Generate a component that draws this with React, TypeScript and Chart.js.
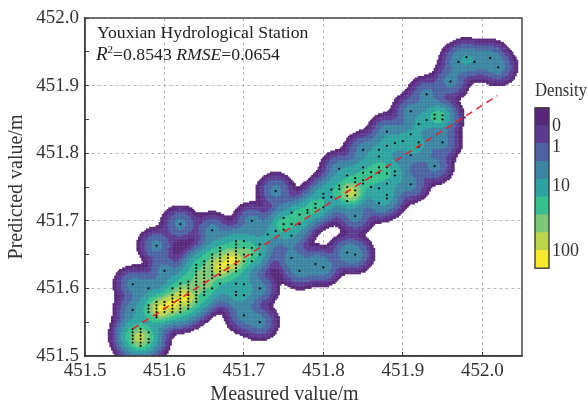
import React, { useEffect, useRef } from "react";
import { Chart, registerables } from "chart.js";

Chart.register(...registerables);

const BASE = 451; // all readings below are metres above this
const bandColors = ["#57277a", "#5c3a92", "#4c62a2", "#3b84a2", "#2da3a0", "#35c08e", "#7cc878", "#bcd54a", "#f6e92e"];
const legendTickLabels = ["0", "1", "10", "100"];
const legendTickPositions = [7.96, 6.78, 4.6, 0.94];
const fitLine = [[0.56, 0.54], [1.019, 0.885]];

// Places where many samples overlap: [measured, predicted, overlapping samples]
const overlapSpots: number[][] = [
  [0.569, 0.527, 35], [0.595, 0.57, 70], [0.61, 0.577, 80], [0.625, 0.587, 80], [0.65, 0.612, 18], [0.67, 0.632, 70], [0.685, 0.642, 80],
  [0.705, 0.652, 8], [0.835, 0.742, 40], [0.75, 0.695, 4], [0.77, 0.708, 4], [0.79, 0.72, 4], [0.87, 0.775, 4], [0.945, 0.854, 4],
];

// [measured, [predicted readings]]
const dotColumns: [number, number[]][] = [
  [0.56, [0.606, 0.568, 0.54, 0.535, 0.53, 0.525, 0.52]],
  [0.57, [0.54, 0.535, 0.53, 0.525, 0.52, 0.515]],
  [0.58, [0.6, 0.575, 0.57, 0.565, 0.535, 0.525, 0.52]],
  [0.59, [0.663, 0.58, 0.575, 0.57, 0.565, 0.56, 0.557]],
  [0.6, [0.626, 0.58, 0.575, 0.57, 0.565]],
  [0.61, [0.6, 0.59, 0.585, 0.58, 0.575, 0.57, 0.565]],
  [0.62, [0.695, 0.607, 0.6, 0.595, 0.59, 0.585, 0.58, 0.575, 0.57, 0.565]],
  [0.63, [0.61, 0.605, 0.6, 0.595, 0.59, 0.585, 0.58, 0.575, 0.57]],
  [0.64, [0.635, 0.63, 0.625, 0.62, 0.615, 0.61, 0.605, 0.6, 0.595, 0.59, 0.585, 0.58]],
  [0.65, [0.64, 0.635, 0.63, 0.625, 0.62, 0.615, 0.61, 0.605, 0.6, 0.595, 0.59]],
  [0.66, [0.686, 0.65, 0.645, 0.64, 0.635, 0.63, 0.625, 0.62, 0.615, 0.6]],
  [0.67, [0.66, 0.655, 0.65, 0.645, 0.64, 0.635, 0.63, 0.625, 0.62, 0.607]],
  [0.68, [0.65, 0.645, 0.64, 0.635, 0.63, 0.625]],
  [0.69, [0.67, 0.665, 0.66, 0.655, 0.65, 0.645, 0.64, 0.635, 0.63, 0.625, 0.607, 0.595, 0.59]],
  [0.7, [0.67, 0.66, 0.65, 0.64, 0.606, 0.59, 0.56]],
  [0.71, [0.7, 0.66, 0.65, 0.64]],
  [0.72, [0.665, 0.65, 0.6, 0.55]],
  [0.73, [0.68]],
  [0.74, [0.744, 0.685]],
  [0.75, [0.704, 0.695, 0.687]],
  [0.76, [0.712, 0.695, 0.678, 0.645]],
  [0.77, [0.709, 0.695, 0.626]],
  [0.78, [0.716, 0.712]],
  [0.79, [0.725, 0.719, 0.636]],
  [0.8, [0.74, 0.734, 0.72, 0.631]],
  [0.81, [0.746, 0.735]],
  [0.82, [0.777, 0.752, 0.747]],
  [0.83, [0.767, 0.75, 0.743, 0.737, 0.729, 0.653]],
  [0.84, [0.763, 0.757, 0.745, 0.738, 0.707, 0.65]],
  [0.85, [0.805, 0.779, 0.771, 0.76, 0.755]],
  [0.86, [0.772, 0.765, 0.75]],
  [0.87, [0.805, 0.795, 0.779, 0.771, 0.748, 0.726]],
  [0.88, [0.832, 0.811, 0.779, 0.77, 0.755, 0.738, 0.733]],
  [0.89, [0.815, 0.773, 0.767]],
  [0.9, [0.818]],
  [0.91, [0.862, 0.828, 0.797, 0.754]],
  [0.92, [0.843, 0.816, 0.809]],
  [0.93, [0.887, 0.849]],
  [0.94, [0.857, 0.851, 0.781]],
  [0.95, [0.856, 0.85, 0.816]],
  [0.96, [0.906]],
  [0.97, [0.935]],
  [0.98, [0.942]],
  [0.99, [0.935]],
  [1.01, [0.941]],
  [1.02, [0.927]],
];

const serif = "'Liberation Serif', 'Times New Roman', serif";
const ink = "#3d3d3d";

// Density bands: each band holds the grid cells whose kernel density, summed
// over the samples, falls in it.
function densityCells() {
  const samples: number[][] = dotColumns.flatMap(([x, ys]) => ys.map((y) => [x, y, 1]));
  const sx = 0.0103;
  const sy = 0.0115;
  const stepX = 0.002;
  const stepY = 0.0024;
  const tight = 0.65;
  const bands: { x: number; y: number }[][] = bandColors.map(() => []);
  for (let x = 0.5; x <= 1.05; x += stepX) {
    for (let y = 0.5; y <= 1.0; y += stepY) {
      let f = 0;
      for (const [px, py, w] of samples) {
        const dx = (x - px) / sx;
        const dy = (y - py) / sy;
        const q = dx * dx + dy * dy;
        if (q < 40) f += w * Math.exp(-q / 2);
      }
      for (const [px, py, w] of overlapSpots) {
        const dx = (x - px) / (sx * tight);
        const dy = (y - py) / (sy * tight);
        const q = dx * dx + dy * dy;
        if (q < 40) f += w * Math.exp(-q / 2);
      }
      const level = Math.floor(1.1 * (3 + Math.log(f || 1e-9)));
      if (level >= 0) bands[Math.min(level, 8)].push({ x: BASE + x, y: BASE + y });
    }
  }
  return bands;
}

const framePlugin = {
  id: "frame",
  afterDatasetsDraw(chart: any) {
    const { ctx, chartArea: a } = chart;
    ctx.save();
    ctx.strokeStyle = ink;
    ctx.lineWidth = 1.4;
    ctx.strokeRect(a.left, a.top, a.right - a.left, a.bottom - a.top);
    ctx.restore();
  },
};

const notePlugin = {
  id: "note",
  afterDraw(chart: any) {
    const { ctx } = chart;
    ctx.save();
    ctx.fillStyle = "#222";
    ctx.textBaseline = "alphabetic";
    ctx.textAlign = "left";
    ctx.font = `17.7px ${serif}`;
    ctx.fillText("Youxian Hydrological Station", 97, 38);
    const runs: [string, string, number][] = [
      ["R", `italic 19px ${serif}`, 0],
      ["2", `11px ${serif}`, -7],
      ["=0.8543 ", `17.7px ${serif}`, 0],
      ["RMSE", `italic 17.7px ${serif}`, 0],
      ["=0.0654", `17.7px ${serif}`, 0],
    ];
    let x = 96;
    for (const [t, f, dy] of runs) {
      ctx.font = f;
      ctx.fillText(t, x, 60 + dy);
      x += ctx.measureText(t).width;
    }
    ctx.fillStyle = "#333";
    ctx.textAlign = "center";
    ctx.font = `20px ${serif}`;
    ctx.fillText("Measured value/m", 284.5, 400);
    ctx.restore();
  },
};

function isMajor(v: number) {
  return Math.abs(v * 10 - Math.round(v * 10)) < 1e-4;
}

function axis(min: number, max: number, minorTicks: boolean, tickPadding: number, extra: any) {
  return {
    type: "linear",
    min,
    max,
    border: { color: ink, width: 1.4, dash: [3, 3] },
    grid: {
      color: (c: any) => (c.tick && isMajor(c.tick.value) ? "#b9b9b9" : "rgba(0,0,0,0)"),
      lineWidth: 1,
      tickColor: (c: any) => (minorTicks || (c.tick && isMajor(c.tick.value)) ? ink : "rgba(0,0,0,0)"),
      tickLength: -4,
    },
    ticks: {
      stepSize: 0.05,
      autoSkip: false,
      maxRotation: 0,
      padding: tickPadding,
      color: "#333",
      font: { family: serif, size: 19 },
      callback: (v: number) => (isMajor(v) && v < 452.01 ? v.toFixed(1) : ""),
    },
    ...extra,
  };
}

export default function App() {
  const mainRef = useRef<HTMLCanvasElement>(null);
  const legendRef = useRef<HTMLCanvasElement>(null);

  useEffect(() => {
    document.body.style.margin = "0";
    const bands = densityCells();
    const bandSets = bandColors.map((color, level) => ({
      type: "scatter",
      label: `band ${level}`,
      data: bands[level],
      pointStyle: "rect",
      pointRadius: 1.4,
      pointHoverRadius: 1.4,
      borderWidth: 0,
      backgroundColor: color,
      showLine: false,
      order: 20 + level,
    }));
    const dots = dotColumns.flatMap(([x, ys]) => ys.map((y) => ({ x: BASE + x, y: BASE + y })));
    const main = new Chart(mainRef.current!, {
      type: "scatter",
      data: {
        datasets: [
          {
            type: "line",
            label: "fit",
            data: fitLine.map(([x, y]) => ({ x: BASE + x, y: BASE + y })),
            borderColor: "#e8202a",
            borderWidth: 1.5,
            borderDash: [7, 5],
            pointRadius: 0,
            order: 1,
          },
          {
            type: "scatter",
            label: "samples",
            data: dots,
            pointRadius: 1.1,
            pointStyle: "circle",
            backgroundColor: "#111",
            borderWidth: 0,
            order: 2,
          },
          ...bandSets,
        ] as any,
      },
      options: {
        animation: false,
        responsive: false,
        parsing: false,
        normalized: true,
        layout: { padding: { top: 18, right: 65, left: 0, bottom: 0 } },
        plugins: { legend: { display: false }, tooltip: { enabled: false } },
        scales: {
          x: axis(451.5, 452.05, false, 8, {
            afterFit: (s: any) => { s.height = 46; s.paddingLeft = 0; s.paddingRight = 0; },
          }),
          y: axis(451.5, 452.0, true, 10, {
            title: { display: true, text: "Predicted value/m", color: "#333", font: { family: serif, size: 20 }, padding: { top: 5, bottom: 0 } },
            afterFit: (s: any) => { s.width = 85; s.paddingTop = 0; s.paddingBottom = 0; },
          }),
        },
      } as any,
      plugins: [framePlugin, notePlugin],
    });

    const legend = new Chart(legendRef.current!, {
      type: "bar",
      data: {
        labels: ["Density"],
        datasets: bandColors
          .slice()
          .reverse()
          .map((color, i) => ({
            label: `segment ${i}`,
            data: [1],
            backgroundColor: color,
            barPercentage: 1,
            categoryPercentage: 1,
            borderWidth: 0,
          })),
      },
      options: {
        animation: false,
        responsive: false,
        layout: { padding: { left: 15 } },
        plugins: {
          legend: { display: false },
          tooltip: { enabled: false },
          title: {
            display: true,
            text: "Density",
            color: "#333",
            font: { family: serif, size: 19, weight: "normal" },
            padding: { top: 2, bottom: 5 },
          },
        },
        scales: {
          x: { display: false, stacked: true },
          y: {
            position: "right",
            stacked: true,
            min: 0,
            max: 9,
            border: { display: false },
            grid: { display: false, drawTicks: false },
            afterFit: (s: any) => { s.width = 38; },
            afterBuildTicks: (s: any) => { s.ticks = legendTickPositions.map((value) => ({ value })); },
            ticks: {
              autoSkip: false,
              padding: 3,
              color: "#333",
              font: { family: serif, size: 18 },
              callback: (v: number) => legendTickLabels[legendTickPositions.indexOf(v)] ?? "",
            },
          },
        },
      } as any,
      plugins: [framePlugin],
    });
    return () => {
      main.destroy();
      legend.destroy();
    };
  }, []);

  const blur = "blur(0.4px)";
  return (
    <div style={{ position: "relative", width: 587, height: 402, background: "#fff" }}>
      <canvas ref={mainRef} width={587} height={402} style={{ position: "absolute", left: 0, top: 0, filter: blur }} />
      <canvas ref={legendRef} width={67} height={204} style={{ position: "absolute", left: 520, top: 78, filter: blur }} />
    </div>
  );
}
